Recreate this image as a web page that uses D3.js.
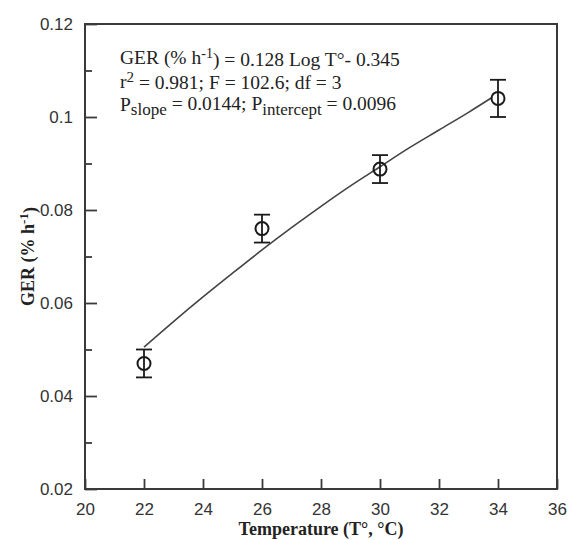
<!DOCTYPE html>
<html><head><meta charset="utf-8">
<script src="https://cdn.jsdelivr.net/npm/d3@7/dist/d3.min.js"></script>
<style>body{margin:0;background:#fff}svg{display:block}</style>
</head><body>
<svg id="c" width="568" height="540"></svg>
<script>
const temps = [22, 26, 30, 34];
const gerMean = [0.047, 0.076, 0.0888, 0.104];
const gerErr = [0.003, 0.003, 0.003, 0.004];
const fitTemps = [22, 23, 24, 25, 26, 27, 28, 29, 30, 31, 32, 33, 33.8];
const fitValues = [0.0505, 0.0560, 0.0613, 0.0664, 0.0714, 0.0762, 0.0808, 0.0852, 0.0893, 0.0934, 0.0972, 0.1010, 0.1042];
const xTicks = [20, 22, 24, 26, 28, 30, 32, 34, 36];
const yTicks = [0.02, 0.04, 0.06, 0.08, 0.1, 0.12];
const yMinor = [0.03, 0.05, 0.07, 0.09, 0.11];

const svg = d3.select("#c");
const L = 85, R = 557, T = 24, B = 489;
const x = d3.scaleLinear().domain([20, 36]).range([L, R]);
const y = d3.scaleLinear().domain([0.02, 0.12]).range([B, T]);
const ink = "#3a3a3a";
const sans = "'Liberation Sans', Arial, sans-serif";
const serif = "'Liberation Serif', 'Times New Roman', serif";

// axes with inward ticks
const gx = svg.append("g").attr("transform", `translate(0,${B})`)
  .call(d3.axisBottom(x).tickValues(xTicks).tickFormat(d3.format("d")).tickSize(-10).tickPadding(14));
const gy = svg.append("g").attr("transform", `translate(${L},0)`)
  .call(d3.axisLeft(y).tickValues(yTicks).tickFormat(d => String(+d.toFixed(2))).tickSize(-12).tickPadding(12));
svg.append("g").attr("transform", `translate(${L},0)`)
  .call(d3.axisLeft(y).tickValues(yMinor).tickFormat("").tickSize(-7));
svg.selectAll(".domain").remove();
svg.selectAll(".tick line").attr("stroke", ink).attr("stroke-width", 1.8);
svg.selectAll(".tick text").attr("fill", "#333").style("font-family", sans).style("font-size", "17px");
gx.selectAll(".tick text").attr("dy", "0.71em");

// frame
svg.append("rect").attr("x", L).attr("y", T).attr("width", R - L).attr("height", B - T)
  .attr("fill", "none").attr("stroke", ink).attr("stroke-width", 2);

// fitted curve
const line = d3.line().x(d => x(d[0])).y(d => y(d[1])).curve(d3.curveMonotoneX);
svg.append("path").datum(fitTemps.map((t, i) => [t, fitValues[i]]))
  .attr("d", line).attr("fill", "none").attr("stroke", "#444").attr("stroke-width", 1.6);

// error bars and markers
const pts = temps.map((t, i) => ({t, m: gerMean[i], e: gerErr[i]}));
const g = svg.append("g").attr("stroke", "#1a1a1a").attr("stroke-width", 1.8).attr("fill", "none");
pts.forEach(p => {
  const cx = x(p.t);
  g.append("line").attr("x1", cx).attr("x2", cx).attr("y1", y(p.m + p.e)).attr("y2", y(p.m - p.e));
  g.append("line").attr("x1", cx - 8).attr("x2", cx + 8).attr("y1", y(p.m + p.e)).attr("y2", y(p.m + p.e));
  g.append("line").attr("x1", cx - 8).attr("x2", cx + 8).attr("y1", y(p.m - p.e)).attr("y2", y(p.m - p.e));
  g.append("circle").attr("cx", cx).attr("cy", y(p.m)).attr("r", 6.5).attr("stroke-width", 2);
});

// axis titles
svg.append("text").attr("x", (L + R) / 2).attr("y", 535).attr("text-anchor", "middle")
  .style("font-family", serif).style("font-weight", "bold").style("font-size", "18px").attr("fill", "#222")
  .text("Temperature (T°, °C)");
const yt = svg.append("text").attr("transform", `translate(34,${(T + B) / 2}) rotate(-90)`).attr("text-anchor", "middle")
  .style("font-family", serif).style("font-weight", "bold").style("font-size", "18px").attr("fill", "#222");
yt.append("tspan").text("GER (% h");
yt.append("tspan").attr("dy", "-0.45em").style("font-size", "13px").text("-1");
yt.append("tspan").attr("dy", "0.45em").text(")");

// annotation
const ann = svg.append("g").style("font-family", serif).style("font-size", "19.5px").attr("fill", "#222");
const a1 = ann.append("text").attr("x", 120).attr("y", 64);
a1.append("tspan").text("GER (% h");
a1.append("tspan").attr("dy", "-0.4em").style("font-size", "14px").text("-1");
a1.append("tspan").attr("dy", "0.4em").text(") = 0.128 Log T°- 0.345");
const a2 = ann.append("text").attr("x", 120).attr("y", 87.5);
a2.append("tspan").text("r");
a2.append("tspan").attr("dy", "-0.4em").style("font-size", "15px").text("2");
a2.append("tspan").attr("dy", "0.4em").text(" = 0.981; F = 102.6; df = 3");
const a3 = ann.append("text").attr("x", 120).attr("y", 111);
a3.append("tspan").text("P");
a3.append("tspan").attr("dy", "0.25em").style("font-size", "17px").text("slope");
a3.append("tspan").attr("dy", "-0.25em").text(" = 0.0144; P");
a3.append("tspan").attr("dy", "0.25em").style("font-size", "17px").text("intercept");
a3.append("tspan").attr("dy", "-0.25em").text(" = 0.0096");
</script>
</body></html>
